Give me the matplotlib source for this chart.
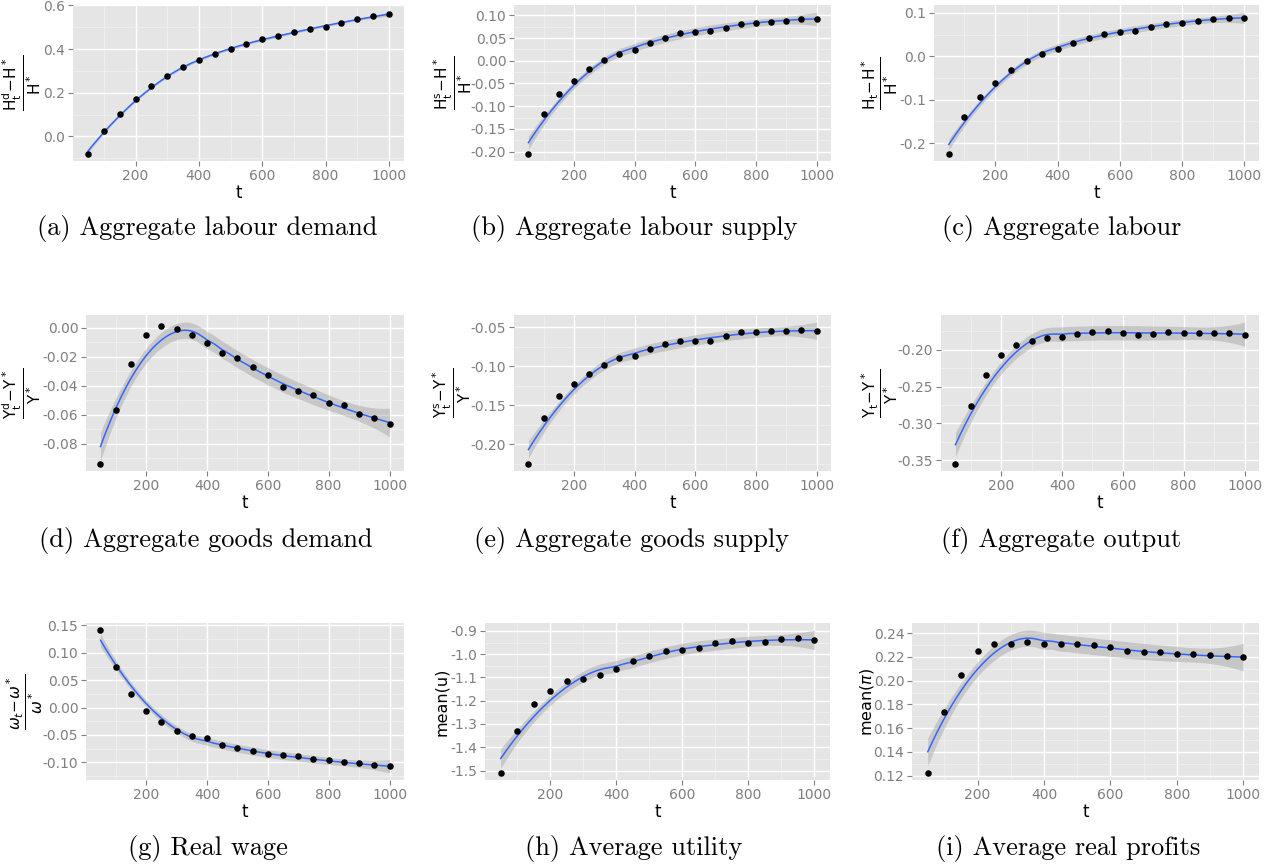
import numpy as np
import matplotlib
matplotlib.use("Agg")
import matplotlib.pyplot as plt
from matplotlib.ticker import FixedLocator, FormatStrFormatter

# ---------------- data ----------------
t = [50, 100, 150, 200, 250, 300, 350, 400, 450, 500,
     550, 600, 650, 700, 750, 800, 850, 900, 950, 1000]

labour_demand = [-0.080, 0.025, 0.103, 0.172, 0.232, 0.277, 0.318, 0.350, 0.378, 0.400,
                 0.423, 0.445, 0.460, 0.477, 0.492, 0.500, 0.520, 0.538, 0.550, 0.560]
labour_supply = [-0.205, -0.117, -0.073, -0.044, -0.019, 0.002, 0.015, 0.024, 0.040, 0.051,
                 0.060, 0.064, 0.066, 0.073, 0.081, 0.084, 0.086, 0.088, 0.092, 0.092]
labour = [-0.225, -0.139, -0.094, -0.062, -0.031, -0.011, 0.006, 0.017, 0.031, 0.042,
          0.052, 0.056, 0.058, 0.068, 0.075, 0.077, 0.082, 0.085, 0.088, 0.088]
goods_demand = [-0.0940, -0.0568, -0.0250, -0.0054, 0.0014, -0.0007, -0.0054, -0.0108, -0.0176, -0.0210,
                -0.0270, -0.0330, -0.0412, -0.0440, -0.0467, -0.0520, -0.0534, -0.0595, -0.0620, -0.0663]
goods_supply = [-0.225, -0.1658, -0.1376, -0.1231, -0.1094, -0.0979, -0.0897, -0.0863, -0.0782, -0.0718,
                -0.0667, -0.0667, -0.0667, -0.0615, -0.0564, -0.0564, -0.0551, -0.0551, -0.0530, -0.0551]
output = [-0.355, -0.2763, -0.2343, -0.2072, -0.1932, -0.1883, -0.1842, -0.1828, -0.1788, -0.1761,
          -0.1743, -0.1774, -0.1801, -0.1788, -0.1761, -0.1774, -0.1774, -0.1774, -0.1774, -0.1801]
real_wage = [0.1414, 0.0732, 0.0253, -0.0060, -0.0263, -0.0429, -0.0520, -0.0552, -0.0687, -0.0742,
             -0.0797, -0.0853, -0.0870, -0.0890, -0.0945, -0.0960, -0.1000, -0.1020, -0.1055, -0.1074]
utility = [-1.510, -1.332, -1.2145, -1.158, -1.117, -1.106, -1.088, -1.062, -1.0275, -1.006,
           -0.988, -0.984, -0.975, -0.954, -0.945, -0.954, -0.949, -0.936, -0.932, -0.941]
profits = [0.1223, 0.1737, 0.2045, 0.2246, 0.2313, 0.2313, 0.2330, 0.2313, 0.2313, 0.2305,
           0.2297, 0.2280, 0.2246, 0.2238, 0.2238, 0.2221, 0.2221, 0.2213, 0.2204, 0.2196]

ylabels = [r'$\dfrac{\mathrm{H_t^d\!-\!H^*}}{\mathrm{H^*}}$',
           r'$\dfrac{\mathrm{H_t^s\!-\!H^*}}{\mathrm{H^*}}$',
           r'$\dfrac{\mathrm{H_t\!-\!H^*}}{\mathrm{H^*}}$',
           r'$\dfrac{\mathrm{Y_t^d\!-\!Y^*}}{\mathrm{Y^*}}$',
           r'$\dfrac{\mathrm{Y_t^s\!-\!Y^*}}{\mathrm{Y^*}}$',
           r'$\dfrac{\mathrm{Y_t\!-\!Y^*}}{\mathrm{Y^*}}$',
           r'$\dfrac{\omega_t\!-\!\omega^*}{\omega^*}$',
           'mean(u)', r'mean($\pi$)']
captions = ['(a) Aggregate labour demand', '(b) Aggregate labour supply', '(c) Aggregate labour',
            '(d) Aggregate goods demand', '(e) Aggregate goods supply', '(f) Aggregate output',
            '(g) Real wage', '(h) Average utility', '(i) Average real profits']
yticks = [[0.0, 0.2, 0.4, 0.6],
          [-0.20, -0.15, -0.10, -0.05, 0.00, 0.05, 0.10],
          [-0.2, -0.1, 0.0, 0.1],
          [-0.08, -0.06, -0.04, -0.02, 0.00],
          [-0.20, -0.15, -0.10, -0.05],
          [-0.35, -0.30, -0.25, -0.20],
          [-0.10, -0.05, 0.00, 0.05, 0.10, 0.15],
          [-1.5, -1.4, -1.3, -1.2, -1.1, -1.0, -0.9],
          [0.12, 0.14, 0.16, 0.18, 0.20, 0.22, 0.24]]
ydec = [1, 2, 1, 2, 2, 2, 2, 1, 2]
xticks = [200, 400, 600, 800, 1000]

series = [labour_demand, labour_supply, labour, goods_demand, goods_supply,
          output, real_wage, utility, profits]

# ---------------- loess smoother (ggplot default) ----------------
def loess_fit(x, y, xg, span=0.75, deg=2):
    x = np.asarray(x, float); y = np.asarray(y, float)
    n = len(x); q = int(np.floor(n * span))
    def rows(pts):
        L = np.zeros((len(pts), n))
        for i, x0 in enumerate(pts):
            d = np.abs(x - x0)
            h = np.sort(d)[q - 1]
            w = np.clip(1 - (d / h) ** 3, 0, None) ** 3
            X = np.vander(x - x0, deg + 1, increasing=True)
            XtW = X.T * w
            A = np.linalg.solve(XtW @ X, XtW)
            L[i] = A[0]
        return L
    Ld = rows(x)
    res = y - Ld @ y
    M = np.eye(n) - Ld
    d1 = np.trace(M.T @ M)
    sigma = np.sqrt(np.sum(res ** 2) / d1)
    Lg = rows(xg)
    fit = Lg @ y
    se = sigma * np.sqrt(np.sum(Lg ** 2, axis=1))
    tq = 2.12
    return fit, fit - tq * se, fit + tq * se

# ---------------- figure ----------------
W, H = 1279, 868
fig = plt.figure(figsize=(W / 100, H / 100), dpi=100)
plt.rcParams['mathtext.fontset'] = 'dejavusans'

# panel boxes in pixels: left, top, right, bottom
boxes = [(73, 5, 404, 161), (514, 5, 831, 161), (934, 5, 1259, 161),
         (86, 315, 404, 471), (514, 315, 831, 471), (941, 315, 1259, 471),
         (86, 623, 404, 780), (485, 623, 830, 780), (912, 623, 1259, 780)]
ylab_x = [22, 453, 880, 22, 452, 880, 25, 442, 867]
cap_pos = [(207, 229), (634, 229), (1062, 229),
           (206, 540), (632, 540), (1061, 540),
           (208, 849), (634, 849), (1068, 849)]

xg = np.linspace(min(t), max(t), 200)
for k in range(9):
    l, tp, r, b = boxes[k]
    ax = fig.add_axes([l / W, 1 - b / H, (r - l) / W, (b - tp) / H])
    ax.set_facecolor('#E5E5E5')
    for s in ax.spines.values():
        s.set_visible(False)
    y = series[k]
    fit, lo, hi = loess_fit(t, y, xg)
    ax.fill_between(xg, lo, hi, color='#999999', alpha=0.4, lw=0, zorder=2)
    ax.plot(xg, fit, color='#3366FF', lw=1.1, zorder=3)
    ax.scatter(t, y, s=22, color='black', zorder=4, lw=0)
    ymin = min(min(y), lo.min()); ymax = max(max(y), hi.max())
    pad = (ymax - ymin) * 0.05
    ax.set_ylim(ymin - pad, ymax + pad)
    ax.set_xlim(50 - 47.5, 1000 + 47.5)
    ax.xaxis.set_major_locator(FixedLocator(xticks))
    ax.xaxis.set_minor_locator(FixedLocator([100, 300, 500, 700, 900]))
    yt = yticks[k]
    step = yt[1] - yt[0]
    ax.yaxis.set_major_locator(FixedLocator(yt))
    ax.yaxis.set_minor_locator(FixedLocator([v + step / 2 for v in [yt[0] - step] + yt]))
    ax.yaxis.set_major_formatter(FormatStrFormatter('%%.%df' % ydec[k]))
    ax.grid(which='major', color='white', lw=1.0, zorder=1)
    ax.grid(which='minor', color='#F2F2F2', lw=0.5, zorder=1)
    ax.set_axisbelow(True)
    ax.tick_params(which='major', length=3.5, width=0.8, color='#7F7F7F',
                   labelcolor='#7F7F7F', labelsize=10, pad=2)
    ax.tick_params(which='minor', length=0)
    ax.set_xlabel('t', fontsize=12, labelpad=1)
    fs = 11.5 if k >= 7 else 11
    ax.set_ylabel(ylabels[k], fontsize=fs, va='center')
    ax.yaxis.set_label_coords((ylab_x[k] - l) / (r - l), 0.5)
    cx, cy = cap_pos[k]
    fig.text(cx / W, 1 - cy / H, captions[k], ha='center', va='center',
             fontfamily='cmr10', fontsize=19)

fig.savefig('out.png', dpi=100)
